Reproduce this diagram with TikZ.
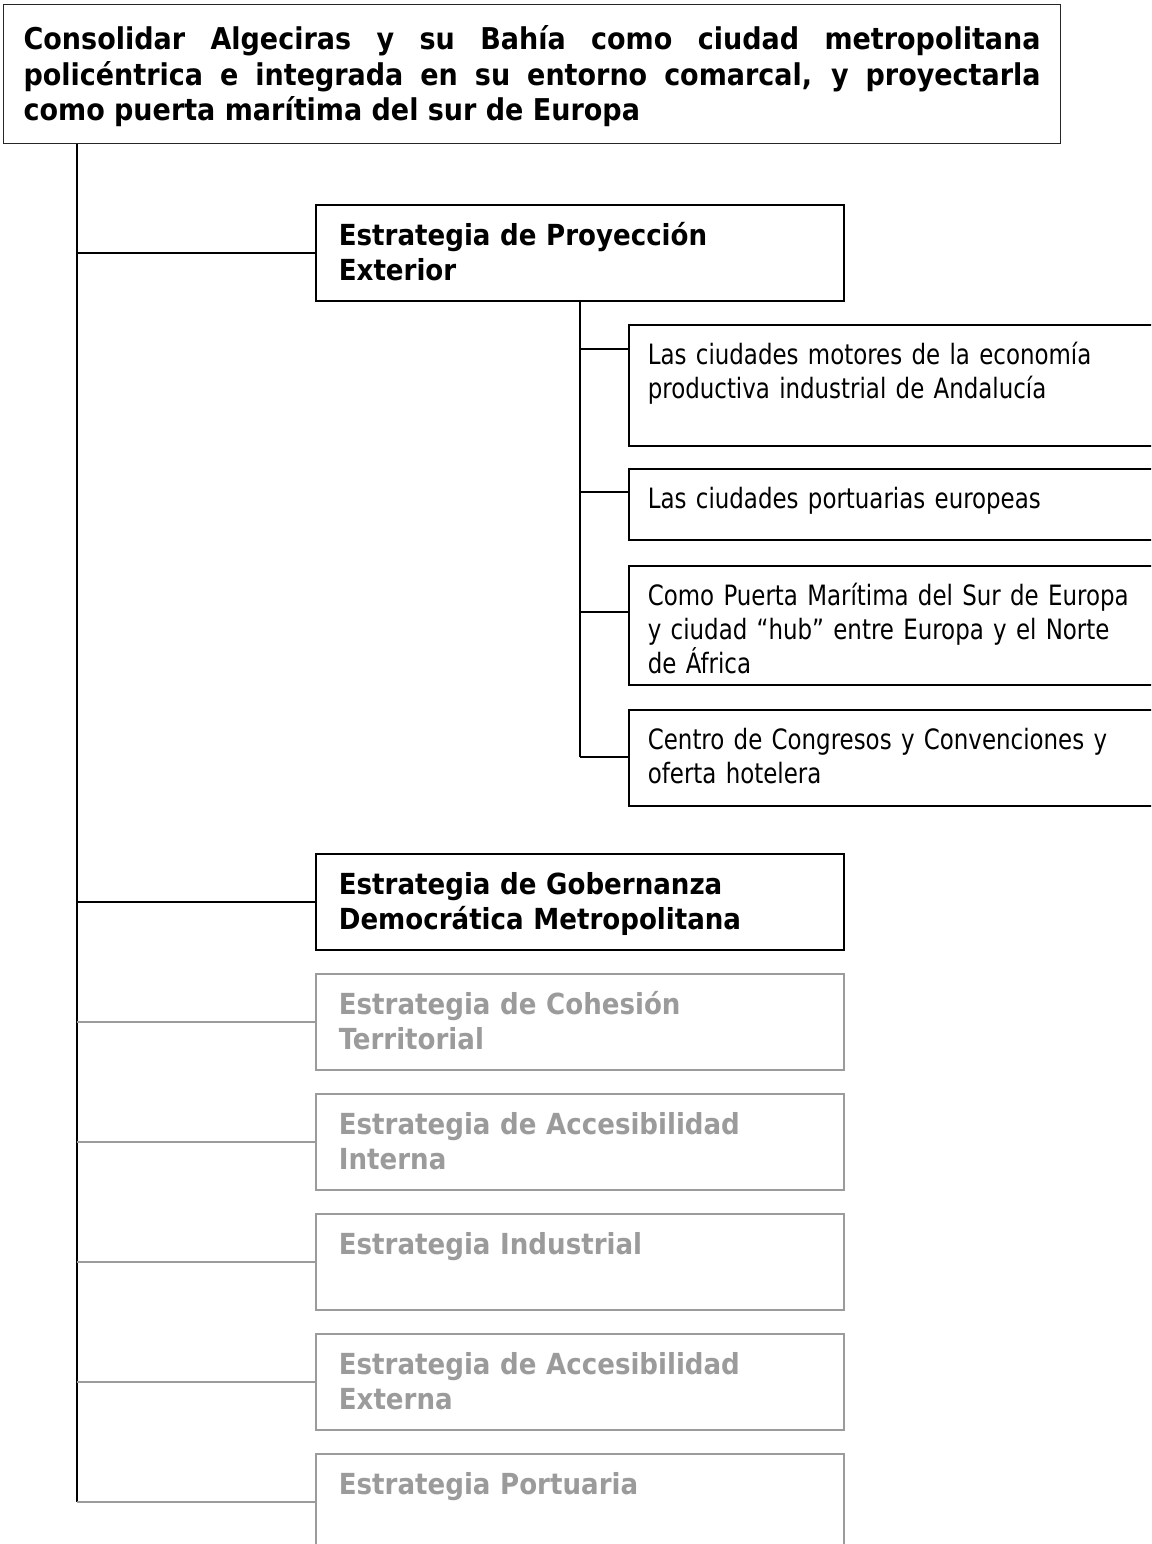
\documentclass[tikz,border=0pt]{standalone}
\usepackage{fontspec}
\setmainfont{DejaVu Sans Condensed}
\newfontfamily\itemfont[FakeStretch=0.91]{DejaVu Sans Condensed}
\definecolor{faded}{RGB}{155,155,155}

\begin{document}
\begin{tikzpicture}[x=1pt, y=-1pt,
    goal/.style={draw=black!85, line width=1.2pt, anchor=north west, align=justify,
        text width=1017pt, inner xsep=20pt, inner ysep=0pt, text height=45pt, text depth=94pt,
        font=\bfseries\fontsize{30}{35.5}\selectfont},
    strat/.style={draw, line width=1.7pt, anchor=north west, align=left,
        text width=482pt, inner xsep=23pt, inner ysep=0pt, text height=41pt, text depth=55pt,
        font=\bfseries\fontsize{29}{35}\selectfont},
    off/.style={strat, draw=faded, text=faded},
    item/.style={draw, line width=1.7pt, anchor=north west, align=left,
        text width=522pt, inner xsep=19pt, inner ysep=0pt, text height=40pt,
        font=\itemfont\fontsize{28}{34}\selectfont},
    link/.style={line width=1.7pt}]
    \path[clip, use as bounding box] (0,0) rectangle (1151,1544);

    \node[goal] (G) at (3,4) {Consolidar Algeciras y su Bahía como ciudad metropolitana\linebreak
        policéntrica e integrada en su entorno comarcal, y proyectarla\linebreak
        como puerta marítima del sur de Europa};

    \node[strat] (PE) at (315,204) {Estrategia de Proyección\\Exterior};
    \node[strat] (GD) at (315,853) {Estrategia de Gobernanza\\Democrática Metropolitana};
    \node[off] (CT) at (315,973) {Estrategia de Cohesión\\Territorial};
    \node[off] (AI) at (315,1093) {Estrategia de Accesibilidad\\Interna};
    \node[off] (EI) at (315,1213) {Estrategia Industrial};
    \node[off] (AE) at (315,1333) {Estrategia de Accesibilidad\\Externa};
    \node[off] (EP) at (315,1453) {Estrategia Portuaria};

    \node[item, text depth=81pt] (M1) at (628,324) {Las ciudades motores de la economía\\productiva industrial de Andalucía};
    \node[item, text depth=31pt] (M2) at (628,468) {Las ciudades portuarias europeas};
    \node[item, text depth=79pt] (M3) at (628,565) {Como Puerta Marítima del Sur de Europa\\y ciudad “hub” entre Europa y el Norte\\de África};
    \node[item, text depth=56pt] (M4) at (628,709) {Centro de Congresos y Convenciones y\\oferta hotelera};

    % main trunk
    \coordinate (T) at (77,1502);
    \draw[link] (G.south -| T) -- (T);
    \draw[link] (PE.west -| T) -- (PE.west);
    \draw[link] (GD.west -| T) -- (GD.west);
    \foreach \n in {CT,AI,EI,AE,EP}
        \draw[link, faded] (\n.west -| T) -- (\n.west);

    % sub trunk
    \coordinate (S) at (580,757);
    \draw[link] (PE.south -| S) -- (S);
    \foreach \n/\d in {M1/25,M2/24,M3/47,M4/48} {
        \path (\n.north west) ++(0,\d) coordinate (\n-in);
        \draw[link] (\n-in -| S) -- (\n-in);
    }
\end{tikzpicture}
\end{document}
